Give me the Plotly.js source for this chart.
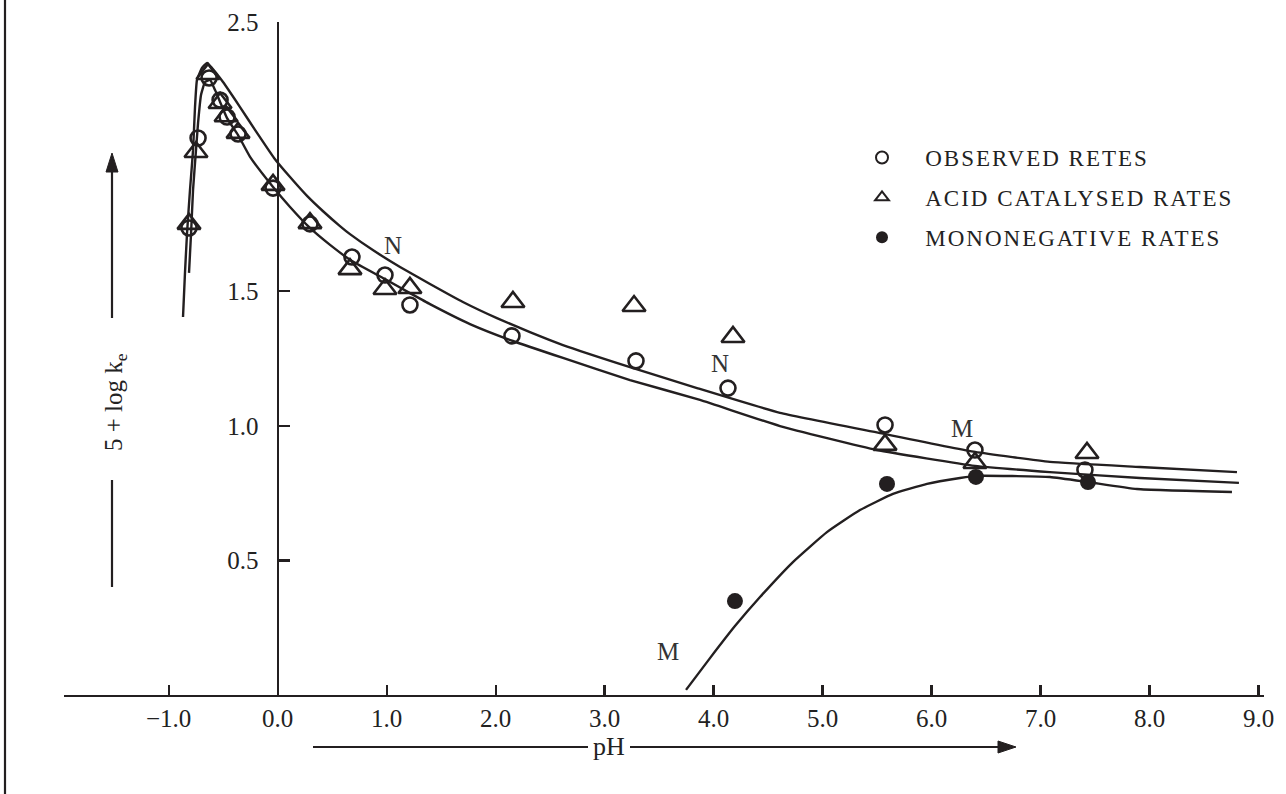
<!DOCTYPE html>
<html>
<head>
<meta charset="utf-8">
<script src="https://cdn.plot.ly/plotly-3.0.1.min.js"></script>
<style>
html,body{margin:0;padding:0;background:#fff;}
#chart{width:1286px;height:794px;}
.legendtext{letter-spacing:2px;}
</style>
</head>
<body>
<div id="chart"></div>
<script>
// ---- Data ----
// Observed rates (open circles)
const obsX = [-0.629, -0.730, -0.813, -0.528, -0.464, -0.363, -0.042, 0.297, 0.682, 0.985, 1.214, 2.150, 3.288, 4.132, 5.573, 6.398, 7.407];
const obsY = [2.292, 2.069, 1.735, 2.210, 2.147, 2.084, 1.883, 1.750, 1.627, 1.560, 1.449, 1.334, 1.241, 1.140, 1.003, 0.910, 0.836];
// Acid catalysed rates (open triangles)
const acidX = [-0.639, -0.749, -0.813, -0.528, -0.473, -0.363, -0.042, 0.297, 0.664, 0.985, 1.214, 2.159, 3.270, 4.178, 5.573, 6.398, 7.426];
const acidY = [2.307, 2.017, 1.750, 2.199, 2.150, 2.088, 1.895, 1.753, 1.582, 1.508, 1.512, 1.460, 1.445, 1.330, 0.929, 0.862, 0.899];
// Mononegative rates (filled)
const monoX = [4.196, 5.591, 6.407, 7.435];
const monoY = [0.349, 0.784, 0.810, 0.791];

// Drawn curves
const upperCurveX = [-0.868, -0.850, -0.831, -0.804, -0.776, -0.758, -0.740, -0.694, -0.648, -0.602, -0.501, -0.345, -0.189, -0.033, 0.114, 0.270, 0.417, 0.572, 0.664, 0.884, 1.123, 1.398, 1.700, 2.012, 2.315, 2.618, 3.233, 3.848, 4.609, 5.527, 6.398, 7.086, 7.912, 8.802];
const upperCurveY = [1.404, 1.568, 1.716, 1.876, 2.024, 2.184, 2.285, 2.329, 2.348, 2.329, 2.277, 2.184, 2.088, 1.995, 1.924, 1.854, 1.797, 1.742, 1.712, 1.650, 1.590, 1.527, 1.460, 1.400, 1.348, 1.300, 1.218, 1.140, 1.048, 0.973, 0.903, 0.866, 0.847, 0.828];
const lowerCurveX = [-0.813, -0.794, -0.776, -0.749, -0.730, -0.703, -0.666, -0.620, -0.574, -0.528, -0.464, -0.363, -0.253, -0.042, 0.114, 0.297, 0.481, 0.682, 0.985, 1.214, 1.398, 1.765, 2.159, 2.618, 3.233, 3.875, 4.609, 5.499, 6.398, 7.086, 7.912, 8.820];
const lowerCurveY = [1.568, 1.716, 1.876, 2.024, 2.125, 2.229, 2.277, 2.285, 2.247, 2.203, 2.143, 2.080, 1.999, 1.887, 1.813, 1.735, 1.672, 1.612, 1.545, 1.493, 1.452, 1.378, 1.315, 1.252, 1.170, 1.096, 0.999, 0.910, 0.851, 0.828, 0.806, 0.788];
const monoCurveX = [3.747, 3.967, 4.196, 4.426, 4.728, 5.040, 5.343, 5.646, 5.958, 6.261, 6.407, 7.086, 7.435, 7.884, 8.756];
const monoCurveY = [0.019, 0.137, 0.256, 0.364, 0.494, 0.605, 0.687, 0.747, 0.784, 0.806, 0.814, 0.810, 0.791, 0.765, 0.754];

// Tick labels
const xTickVals = [-1, 0, 1, 2, 3, 4, 5, 6, 7, 8, 9];
const xTickText = ['\u22121.0', '0.0', '1.0', '2.0', '3.0', '4.0', '5.0', '6.0', '7.0', '8.0', '9.0'];
const yTickVals = [0.5, 1.0, 1.5, 2.5];
const yTickText = ['0.5', '1.0', '1.5', '2.5'];

// Legend names
const seriesNames = ['OBSERVED RETES', 'ACID CATALYSED RATES', 'MONONEGATIVE RATES'];

// Curve labels
const labelText = ['N', 'N', 'M', 'M'];
const labelX = [1.06, 4.06, 6.28, 3.58];
const labelY = [1.67, 1.23, 0.99, 0.16];

const INK = '#231f20';
const FONT = 'Liberation Serif, Times New Roman, serif';
const pad = '\u00a0\u00a0\u00a0';

const lineStyle = {color: INK, width: 2.4, shape: 'spline', smoothing: 0.4};

const traces = [
  {x: upperCurveX, y: upperCurveY, mode: 'lines', line: lineStyle, showlegend: false, hoverinfo: 'skip'},
  {x: lowerCurveX, y: lowerCurveY, mode: 'lines', line: lineStyle, showlegend: false, hoverinfo: 'skip'},
  {x: monoCurveX, y: monoCurveY, mode: 'lines', line: lineStyle, showlegend: false, hoverinfo: 'skip'},
  {x: acidX, y: acidY, mode: 'markers', name: pad + seriesNames[1], legendgroup: 'b', legendrank: 2,
   marker: {symbol: 'triangle-up-open', size: 20, color: INK, line: {width: 2.6, color: INK}}},
  {x: obsX, y: obsY, mode: 'markers', name: pad + seriesNames[0], legendgroup: 'a', legendrank: 1,
   marker: {symbol: 'circle-open', size: 15, color: INK, line: {width: 2.6, color: INK}}},
  {x: monoX, y: monoY, mode: 'markers', name: pad + seriesNames[2], legendgroup: 'c', legendrank: 3,
   marker: {symbol: 'circle', size: 16, color: INK, line: {width: 0}}}
];

// pixel -> paper helpers for decorations outside the plot
const L = 64, T = 22, W = 1200, H = 673;
const px = v => (v - L) / W;
const py = v => (T + H - v) / H;

const annotations = labelText.map((t, i) => ({
  x: labelX[i], y: labelY[i], xref: 'x', yref: 'y', text: t, showarrow: false,
  xanchor: 'center', yanchor: 'middle',
  font: {family: FONT, size: 25, color: '#333'}
}));

annotations.push(
  {x: px(115), y: py(402), xref: 'paper', yref: 'paper', text: '5 + log k<sub>e</sub>', textangle: -90,
   xanchor: 'center', yanchor: 'middle', showarrow: false, font: {family: FONT, size: 25, color: '#222'}},
  {x: px(609), y: py(746), xref: 'paper', yref: 'paper', text: 'pH', showarrow: false,
   xanchor: 'center', yanchor: 'middle', font: {family: FONT, size: 26, color: '#222'}}
);

const arrowUp = `M ${px(112)} ${py(153)} L ${px(106)} ${py(172)} L ${px(118)} ${py(172)} Z`;
const arrowRight = `M ${px(1016)} ${py(747)} L ${px(998)} ${py(741)} L ${px(998)} ${py(753)} Z`;

const shapes = [
  {type: 'line', xref: 'paper', yref: 'paper', x0: px(5), x1: px(5), y0: py(0), y1: py(794), line: {color: INK, width: 2.2}},
  {type: 'line', xref: 'paper', yref: 'paper', x0: px(112), x1: px(112), y0: py(480), y1: py(587), line: {color: INK, width: 2.2}},
  {type: 'line', xref: 'paper', yref: 'paper', x0: px(112), x1: px(112), y0: py(170), y1: py(318), line: {color: INK, width: 2.2}},
  {type: 'path', xref: 'paper', yref: 'paper', path: arrowUp, fillcolor: INK, line: {color: INK, width: 1}},
  {type: 'line', xref: 'paper', yref: 'paper', x0: px(313), x1: px(588), y0: py(747), y1: py(747), line: {color: INK, width: 2.2}},
  {type: 'line', xref: 'paper', yref: 'paper', x0: px(630), x1: px(1000), y0: py(747), y1: py(747), line: {color: INK, width: 2.2}},
  {type: 'path', xref: 'paper', yref: 'paper', path: arrowRight, fillcolor: INK, line: {color: INK, width: 1}}
];

const layout = {
  width: 1286, height: 794,
  margin: {l: L, r: 1286 - L - W, t: T, b: 794 - T - H},
  paper_bgcolor: '#fff', plot_bgcolor: '#fff',
  font: {family: FONT, size: 24, color: '#222'},
  showlegend: true,
  legend: {x: px(862), y: py(136), xanchor: 'left', yanchor: 'top', bgcolor: 'rgba(0,0,0,0)',
           font: {family: FONT, size: 23, color: '#222'}, traceorder: 'grouped', tracegroupgap: 7,
           itemsizing: 'constant'},
  xaxis: {range: [-1.96, 9.05], showgrid: false, zeroline: false, showline: true, linecolor: INK, linewidth: 2.4,
          ticks: 'inside', ticklen: 10, tickwidth: 2.2, tickcolor: INK, tickvals: xTickVals, ticktext: xTickText,
          tickfont: {family: FONT, size: 25, color: '#222'}, fixedrange: true},
  yaxis: {range: [0, 2.5], anchor: 'free', position: px(277.6), showgrid: false, zeroline: false, showline: true,
          linecolor: INK, linewidth: 2.4, ticks: 'inside', ticklen: 11, tickwidth: 2.2, tickcolor: INK,
          tickvals: yTickVals, ticktext: yTickText, ticklabelstandoff: 13,
          tickfont: {family: FONT, size: 25, color: '#222'}, fixedrange: true},
  annotations: annotations,
  shapes: shapes
};

Plotly.newPlot('chart', traces, layout, {displayModeBar: false, staticPlot: true});
</script>
</body>
</html>
